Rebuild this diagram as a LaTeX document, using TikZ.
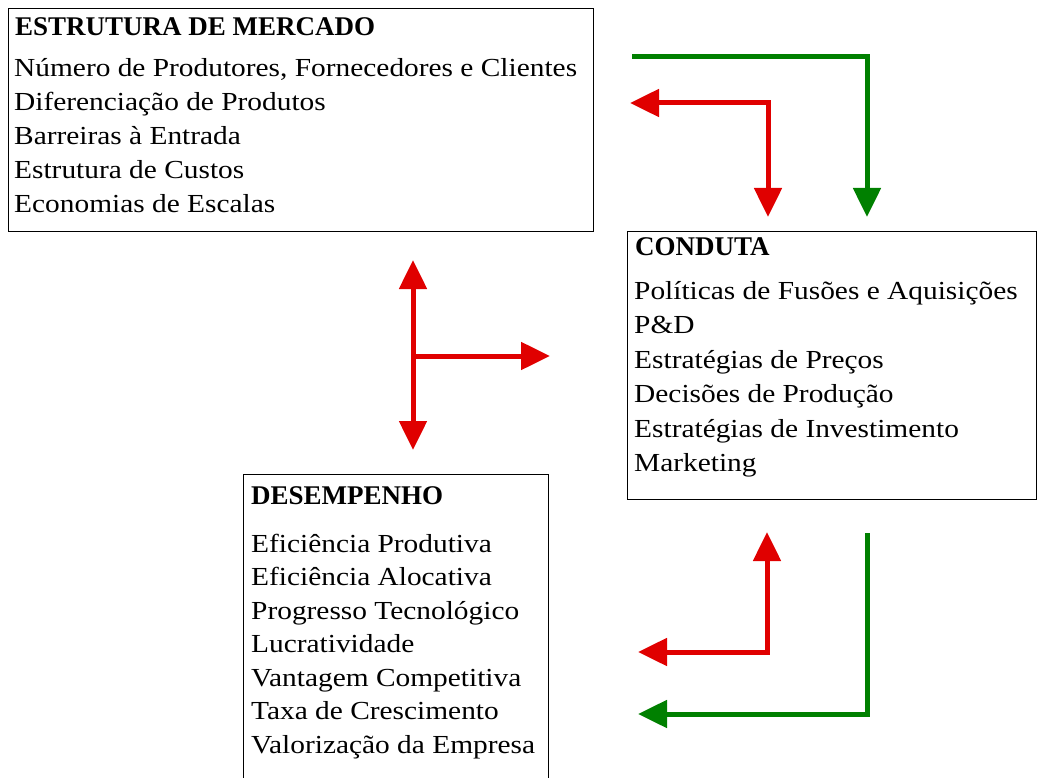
\documentclass[tikz,border=0pt]{standalone}
\usepackage{fontspec}
\setmainfont{Liberation Serif}
\newfontfamily\itemfont{Liberation Serif}[FakeStretch=1.13]
\newfontfamily\titlefont{Liberation Serif}
\usetikzlibrary{arrows.meta}
\usetikzlibrary{positioning}
\definecolor{arrowred}{RGB}{224,0,0}
\definecolor{arrowgreen}{RGB}{0,128,0}
\tikzset{
	box/.style={draw, line width=1.2pt, anchor=north west, inner sep=0pt},
	title/.style={anchor=base west, inner sep=0pt, font=\titlefont\bfseries\fontsize{27}{31}\selectfont},
	item/.style={anchor=base west, inner sep=0pt, font=\itemfont\fontsize{26}{30}\selectfont},
	redline/.style={draw=arrowred, line width=5pt},
	greenline/.style={draw=arrowgreen, line width=5pt},
	bigtip/.tip={Triangle[width=27pt,length=29pt]}
}

\begin{document}
\begin{tikzpicture}[x=1pt,y=-1pt]
	\useasboundingbox (0,0) rectangle (1039,778);
	\clip (0,0) rectangle (1039,778);
	% boxes
	\node[box, minimum width=585pt, minimum height=223pt] (mercado) at (8,8) {};
	\node[box, minimum width=409pt, minimum height=268pt] (conduta) at (627,231) {};
	\node[box, minimum width=305pt, minimum height=320pt] (desempenho) at (243,474) {};
	% estrutura de mercado
	\node[title] (mkt0) at (15,36) {ESTRUTURA DE MERCADO};
	\node[item] (mkt1) at (14,77) {Número de Produtores, Fornecedores e Clientes};%1
	\node[item] (mkt2) at (14,111) {Diferenciação de Produtos};%2
	\node[item] (mkt3) at (14,145) {Barreiras à Entrada};%3
	\node[item] (mkt4) at (14,179) {Estrutura de Custos};%4
	\node[item] (mkt5) at (14,213) {Economias de Escalas};%5
	% conduta
	\node[title] (cdt0) at (635,256) {CONDUTA};
	\node[item] (cdt1) at (634,299) {Políticas de Fusões e Aquisições};%1
	\node[item] (cdt2) at (634,333) {P\&D};%2
	\node[item] (cdt3) at (634,368) {Estratégias de Preços};%3
	\node[item] (cdt4) at (634,402) {Decisões de Produção};%4
	\node[item] (cdt5) at (634,437) {Estratégias de Investimento};%5
	\node[item] (cdt6) at (634,471) {Marketing};%6
	% desempenho
	\node[title] (dsp0) at (251,504) {DESEMPENHO};
	\node[item] (dsp1) at (251,552) {Eficiência Produtiva};%1
	\node[item] (dsp2) at (251,585.5) {Eficiência Alocativa};%2
	\node[item] (dsp3) at (251,619) {Progresso Tecnológico};%3
	\node[item] (dsp4) at (251,652.5) {Lucratividade};%4
	\node[item] (dsp5) at (251,686) {Vantagem Competitiva};%5
	\node[item] (dsp6) at (251,719.5) {Taxa de Crescimento};%6
	\node[item] (dsp7) at (251,753) {Valorização da Empresa};%7
	% arrow ends
	\coordinate (gA) at (632,57);
	\coordinate (gB) at (867,217);
	\coordinate (rA) at (630,103);
	\coordinate (rB) at (768,217);
	\coordinate (cTop) at (413,260);
	\coordinate (cBot) at (413,450);
	\coordinate (cMid) at (413,356);
	\coordinate (cRight) at (550,356);
	\coordinate (rC) at (767,532);
	\coordinate (rD) at (638,652);
	\coordinate (gC) at (867,533);
	\coordinate (gD) at (638,714);
	% arrows
	\draw[greenline, -bigtip] (gA) -| (gB);
	\draw[redline, bigtip-bigtip] (rA) -| (rB);
	\draw[redline, bigtip-bigtip] (cTop) -- (cBot);
	\draw[redline, -bigtip] (cMid) -- (cRight);
	\draw[redline, bigtip-bigtip] (rC) |- (rD);
	\draw[greenline, -bigtip] (gC) |- (gD);
\end{tikzpicture}
\end{document}
